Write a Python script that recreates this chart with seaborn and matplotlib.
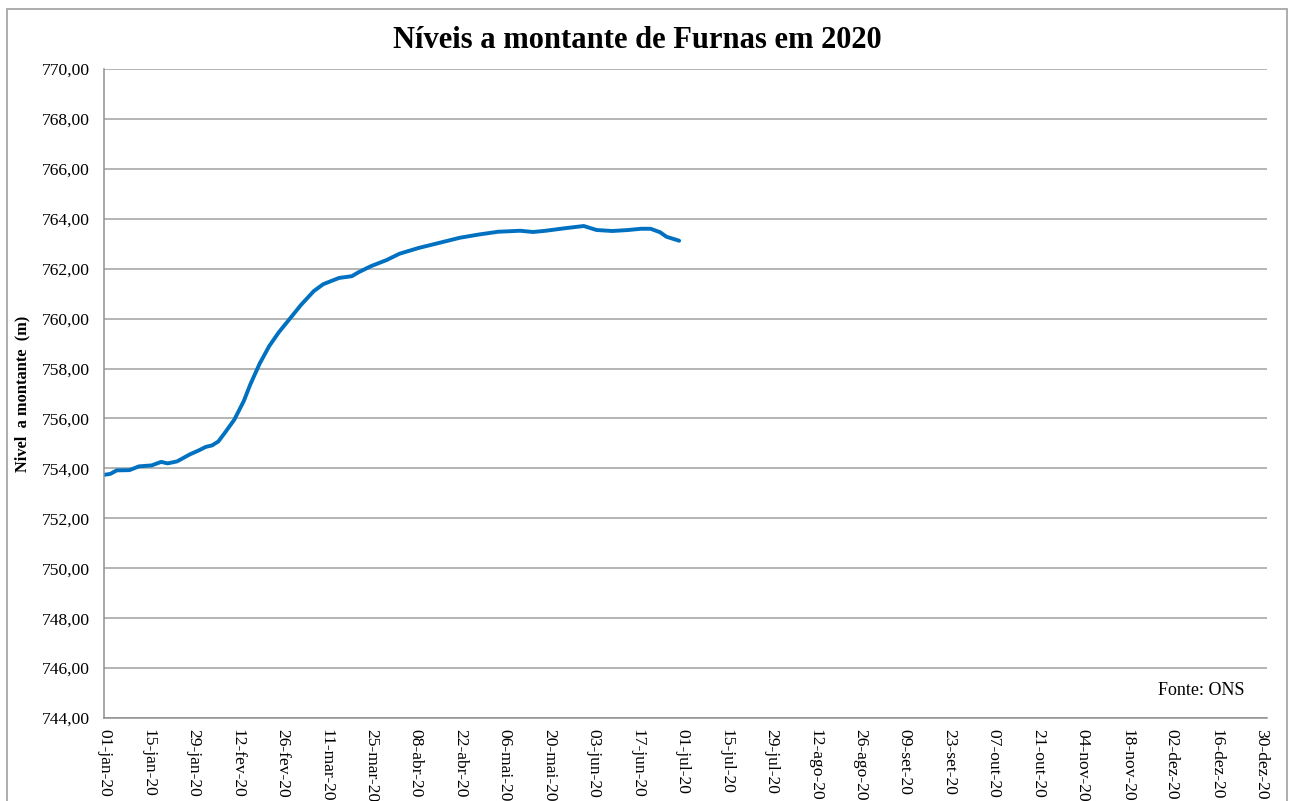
import pandas as pd
import numpy as np
import seaborn as sns
import matplotlib.pyplot as plt
import matplotlib.dates as mdates
from matplotlib.patches import Rectangle
from matplotlib.ticker import FuncFormatter, MultipleLocator

# readings taken off the chart (date, level in m)
dates = ['2020-01-01', '2020-01-03', '2020-01-05', '2020-01-09', '2020-01-12',
         '2020-01-16', '2020-01-19', '2020-01-21', '2020-01-24', '2020-01-28',
         '2020-01-31', '2020-02-02', '2020-02-04', '2020-02-06', '2020-02-08',
         '2020-02-11', '2020-02-14', '2020-02-16', '2020-02-19', '2020-02-22',
         '2020-02-25', '2020-02-28', '2020-03-03', '2020-03-07', '2020-03-10',
         '2020-03-15', '2020-03-19', '2020-03-21', '2020-03-25', '2020-03-30',
         '2020-04-03', '2020-04-09', '2020-04-16', '2020-04-22', '2020-04-28',
         '2020-05-04', '2020-05-11', '2020-05-15', '2020-05-19', '2020-05-25',
         '2020-05-31', '2020-06-04', '2020-06-09', '2020-06-14', '2020-06-18',
         '2020-06-21', '2020-06-24', '2020-06-26', '2020-06-30']
levels = [753.74, 753.78, 753.92, 753.93, 754.08,
          754.12, 754.26, 754.20, 754.28, 754.56,
          754.73, 754.86, 754.92, 755.08, 755.42,
          755.95, 756.70, 757.35, 758.20, 758.90,
          759.45, 759.92, 760.55, 761.10, 761.38,
          761.63, 761.70, 761.85, 762.10, 762.35,
          762.60, 762.83, 763.05, 763.24, 763.37,
          763.48, 763.52, 763.47, 763.52, 763.62,
          763.71, 763.55, 763.51, 763.55, 763.60,
          763.60, 763.46, 763.28, 763.12]

months_pt = ['jan', 'fev', 'mar', 'abr', 'mai', 'jun',
             'jul', 'ago', 'set', 'out', 'nov', 'dez']

df = pd.DataFrame({'data': pd.to_datetime(dates), 'nivel': levels})

sns.set_theme(style="white")
plt.rcParams['font.family'] = ['Liberation Serif', 'DejaVu Serif']
plt.rcParams['text.color'] = 'black'
plt.rcParams['axes.labelcolor'] = 'black'

fig = plt.figure(figsize=(12.91, 8.01), dpi=100)
ax = fig.add_axes([104 / 1291, 1 - 718 / 801, (1267 - 104) / 1291, (718 - 69) / 801])

sns.lineplot(data=df, x='data', y='nivel', ax=ax, color='#0070C0', linewidth=2.8)

ax.set_ylim(744, 770)
ax.yaxis.set_major_locator(MultipleLocator(2))
ax.yaxis.set_major_formatter(FuncFormatter(lambda v, p: f"{v:.2f}".replace('.', ',')))
ax.set_xlim(pd.Timestamp('2020-01-01'), pd.Timestamp('2021-01-01'))

ticks = pd.date_range('2020-01-01', '2020-12-30', freq='14D')
ax.set_xticks(mdates.date2num(ticks))
ax.set_xticklabels([f"{d.day:02d}-{months_pt[d.month - 1]}-20" for d in ticks],
                   rotation=-90, va='top', ha='center')

ax.grid(axis='y', color='#a0a0a0', linewidth=1.1)
ax.grid(axis='x', visible=False)
for s in ['top', 'right']:
    ax.spines[s].set_visible(False)
for s in ['left', 'bottom']:
    ax.spines[s].set_color('#909090')
    ax.spines[s].set_linewidth(1.1)
ax.tick_params(axis='both', which='major', direction='out', length=5, width=1,
               color='#909090', labelsize=12.6, labelcolor='black')
ax.tick_params(axis='y', pad=5)
ax.tick_params(axis='x', pad=3)

ax.set_xlabel('')
ax.set_ylabel('Nivel  a montante  (m)', fontsize=11.8, fontweight='bold', color='black')
ax.yaxis.set_label_coords(-0.063, 0.5)

ax.text(0.981, 0.043, 'Fonte: ONS', transform=ax.transAxes, ha='right', va='center',
        fontsize=13, color='black')

fig.suptitle('Níveis a montante de Furnas em 2020', x=0.4934, y=0.949, va='center',
             fontsize=22, fontweight='bold', color='black')

fig.patches.append(Rectangle((7 / 1291, -0.05), (1287 - 7) / 1291, 1 - 9 / 801 + 0.05,
                             transform=fig.transFigure, fill=False,
                             edgecolor='#a0a0a0', linewidth=1.2, clip_on=False))

fig.savefig('out.png', dpi=100)
